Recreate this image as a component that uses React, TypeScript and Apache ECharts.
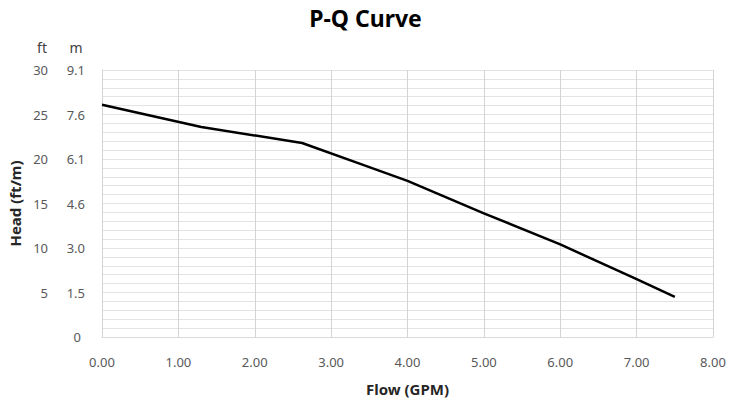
import React, { useEffect, useRef } from "react";
import * as echarts from "echarts";

const flowGpm = [0, 1.3, 2.62, 3.4, 4.0, 5.0, 6.0, 7.0, 7.5];
const headFt = [26.1, 23.6, 21.8, 19.4, 17.55, 13.9, 10.4, 6.5, 4.5];
const ftTicks = [0, 5, 10, 15, 20, 25, 30];
const mTicks = ["", "1.5", "3.0", "4.6", "6.1", "7.6", "9.1"];

const FONT = "'Noto Sans', 'Open Sans', sans-serif";

export default function App() {
  const ref = useRef<HTMLDivElement>(null);
  useEffect(() => {
    document.body.style.margin = "0";
    const chart = echarts.init(ref.current!, null, { renderer: "svg" });
    chart.setOption({
      animation: false,
      textStyle: { fontFamily: FONT },
      title: {
        text: "P-Q Curve",
        left: "center",
        top: 1,
        textStyle: { fontSize: 23, fontWeight: "bold", color: "#000", fontFamily: FONT },
      },
      graphic: [
        { type: "text", x: 42, y: 47, style: { text: "ft", fill: "#404040", font: `14px ${FONT}`, textAlign: "center", textVerticalAlign: "middle" } },
        { type: "text", x: 76, y: 47, style: { text: "m", fill: "#404040", font: `14px ${FONT}`, textAlign: "center", textVerticalAlign: "middle" } },
      ],
      grid: { left: 102, right: 18, top: 70, bottom: 66, containLabel: false, outerBoundsMode: "none" },
      xAxis: {
        type: "value",
        min: 0,
        max: 8,
        interval: 1,
        name: "Flow (GPM)",
        nameLocation: "middle",
        nameGap: 44,
        nameTextStyle: { fontSize: 15, fontWeight: "bold", color: "#262626", fontFamily: FONT },
        axisLine: { show: true, lineStyle: { color: "#d9d9d9" } },
        axisTick: { show: false },
        axisLabel: { color: "#595959", fontSize: 13, margin: 18, formatter: (v: number) => v.toFixed(2) },
        splitLine: { show: true, lineStyle: { color: "#d4d4d4", width: 1 } },
      },
      yAxis: {
        type: "value",
        min: 0,
        max: 30,
        interval: 1,
        name: "Head (ft/m)",
        nameLocation: "middle",
        nameRotate: 90,
        nameGap: 80,
        nameTextStyle: { fontSize: 15, fontWeight: "bold", color: "#262626", fontFamily: FONT },
        axisLine: { show: true, lineStyle: { color: "#d4d4d4" } },
        axisTick: { show: false },
        axisLabel: {
          interval: 4,
          margin: 17,
          formatter: (v: number) => {
            const i = ftTicks.indexOf(v);
            if (i < 0) return "";
            if (v === 0) return "{z|0}";
            return `{a|${v}}{b|${mTicks[i]}}`;
          },
          rich: {
            a: { width: 22, align: "right", color: "#595959", fontSize: 13, fontFamily: FONT },
            b: { width: 37, align: "right", color: "#595959", fontSize: 13, fontFamily: FONT },
            z: { width: 59, align: "right", padding: [0, 4, 0, 0], color: "#595959", fontSize: 13, fontFamily: FONT },
          },
        },
        splitLine: { show: true, lineStyle: { color: "#e3e3e3", width: 1 } },
      },
      series: [
        {
          type: "line",
          data: flowGpm.map((x, i) => [x, headFt[i]]),
          showSymbol: false,
          symbol: "none",
          lineStyle: { color: "#000", width: 2.5 },
        },
      ],
    });
    return () => chart.dispose();
  }, []);
  return <div ref={ref} style={{ width: 731, height: 403, position: "fixed", left: 0, top: 0, background: "#fff" }} />;
}
